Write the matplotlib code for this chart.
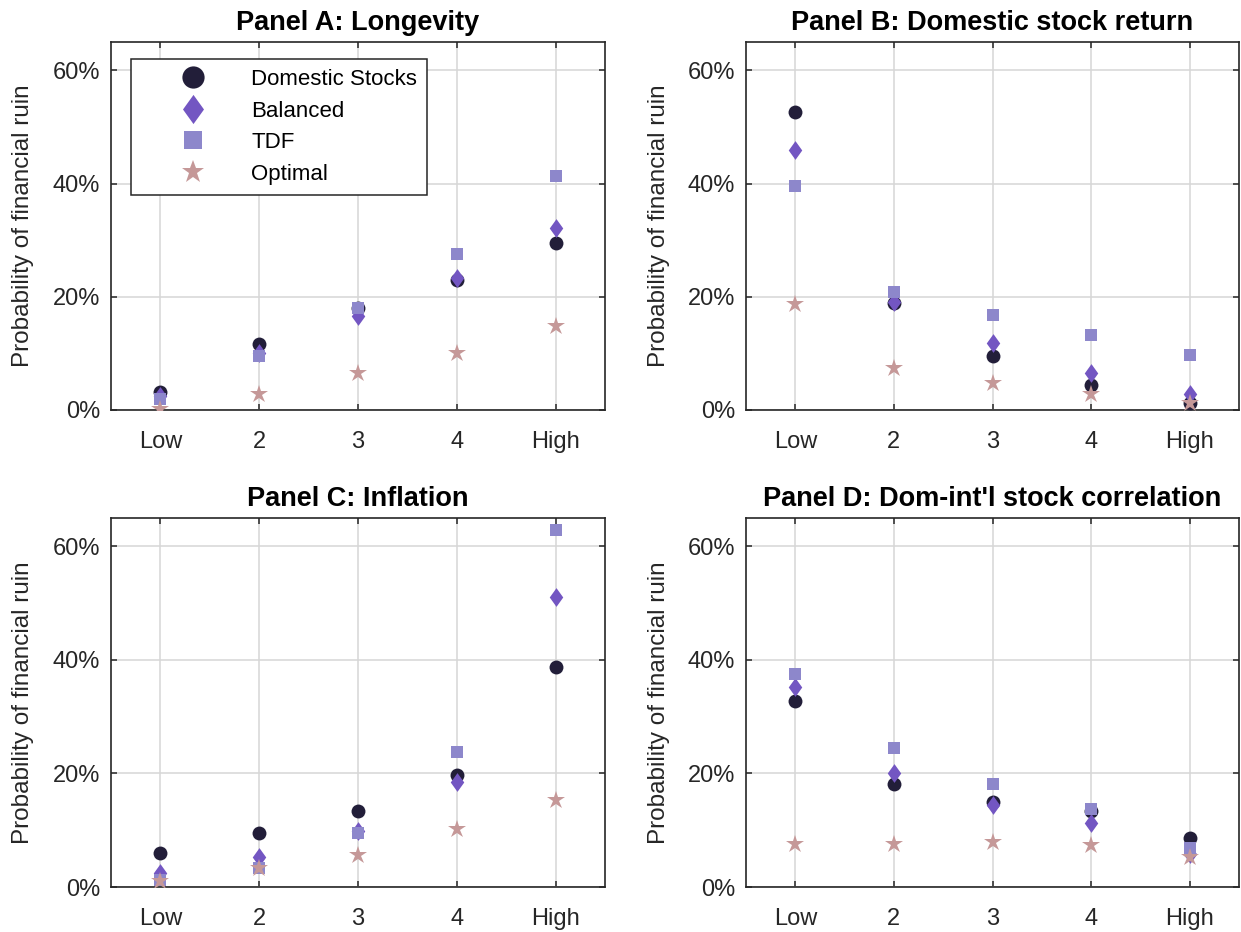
import numpy as np
import matplotlib
matplotlib.use("Agg")
import matplotlib.pyplot as plt
from matplotlib.lines import Line2D
from matplotlib.ticker import FuncFormatter

plt.rcParams["font.family"] = ["Liberation Sans", "DejaVu Sans"]

categories = ["Low", "2", "3", "4", "High"]
series_names = ["Domestic Stocks", "Balanced", "TDF", "Optimal"]

titles = ["Panel A: Longevity", "Panel B: Domestic stock return",
          "Panel C: Inflation", "Panel D: Dom-int'l stock correlation"]

# probability of financial ruin, in percent
longevity_dom = [3.1, 11.6, 18.0, 23.0, 29.5]
longevity_bal = [2.4, 10.0, 16.6, 23.4, 32.2]
longevity_tdf = [2.0, 9.5, 18.1, 27.6, 41.3]
longevity_opt = [0.2, 2.9, 6.6, 10.1, 14.9]

stockret_dom = [52.6, 18.9, 9.6, 4.4, 1.3]
stockret_bal = [46.0, 19.1, 11.8, 6.6, 2.8]
stockret_tdf = [39.6, 20.8, 16.7, 13.3, 9.7]
stockret_opt = [18.8, 7.4, 4.7, 2.9, 1.3]

inflation_dom = [6.0, 9.5, 13.4, 19.7, 38.8]
inflation_bal = [2.5, 5.2, 9.8, 18.5, 51.1]
inflation_tdf = [1.2, 3.4, 9.5, 23.7, 62.8]
inflation_opt = [1.1, 3.3, 5.7, 10.3, 15.3]

corr_dom = [32.7, 18.1, 14.9, 13.4, 8.7]
corr_bal = [35.2, 20.0, 14.4, 11.3, 5.9]
corr_tdf = [37.6, 24.4, 18.2, 13.8, 6.8]
corr_opt = [7.6, 7.6, 8.0, 7.4, 5.3]

panels = [
    [longevity_dom, longevity_bal, longevity_tdf, longevity_opt],
    [stockret_dom, stockret_bal, stockret_tdf, stockret_opt],
    [inflation_dom, inflation_bal, inflation_tdf, inflation_opt],
    [corr_dom, corr_bal, corr_tdf, corr_opt],
]

# styles
diamond = [(0, 1), (0.72, 0), (0, -1), (-0.72, 0), (0, 1)]
colors = ["#221e39", "#7356c2", "#8d87cb", "#c59898"]
markers = ["o", diamond, "s", "*"]
sizes = [10, 13.5, 9, 13.5]
legend_sizes = [16, 21, 12.5, 17]

W, H = 1241, 932
boxes = [  # left, right, top, bottom in pixels
    (111, 605, 42, 410),
    (746, 1239, 42, 410),
    (111, 605, 518, 887),
    (746, 1239, 518, 887),
]

fig = plt.figure(figsize=(W / 100, H / 100), dpi=100)
x = np.arange(1, len(categories) + 1)

for i, (vals, title, (l, r, t, b)) in enumerate(zip(panels, titles, boxes)):
    ax = fig.add_axes([l / W, 1 - b / H, (r - l) / W, (b - t) / H])
    for j, v in enumerate(vals):
        ax.plot(x, np.array(v) / 100, linestyle="none", marker=markers[j],
                markersize=sizes[j], color=colors[j], markeredgewidth=0,
                zorder=3 + j)
    ax.set_xlim(0.5, 5.5)
    ax.set_ylim(0, 0.65)
    ax.set_xticks(x)
    ax.set_xticklabels(categories)
    ax.set_yticks([0, 0.2, 0.4, 0.6])
    ax.yaxis.set_major_formatter(FuncFormatter(lambda v, p: f"{v * 100:.0f}%"))
    ax.grid(True, color="#d6d6d6", linewidth=1.1)
    ax.set_axisbelow(True)
    ax.tick_params(direction="in", length=4.5, width=1.1, top=True, right=True,
                   labelsize=17, colors="#262626")
    ax.tick_params(axis="x", pad=15)
    ax.tick_params(axis="y", pad=8)
    for s in ax.spines.values():
        s.set_color("#262626")
        s.set_linewidth(1.2)
    ax.set_title(title, fontsize=19.5, fontweight="bold", pad=9)
    ax.set_ylabel("Probability of financial ruin", fontsize=17.5, color="#262626")
    ax.yaxis.set_label_coords(-0.155, 0.5)

    if i == 0:
        handles = [Line2D([], [], linestyle="none", marker=markers[j],
                          markersize=legend_sizes[j], color=colors[j],
                          markeredgewidth=0) for j in range(4)]
        leg = ax.legend(handles, series_names, loc="upper left",
                        bbox_to_anchor=(0.0405, 0.954), borderaxespad=0,
                        fontsize=16, fancybox=False, framealpha=1,
                        edgecolor="#262626", borderpad=0.45, handlelength=4.7,
                        handletextpad=0.26, labelspacing=0.48)
        leg.get_frame().set_linewidth(1.1)
        leg.set_zorder(10)

fig.savefig("out.png", dpi=100)
